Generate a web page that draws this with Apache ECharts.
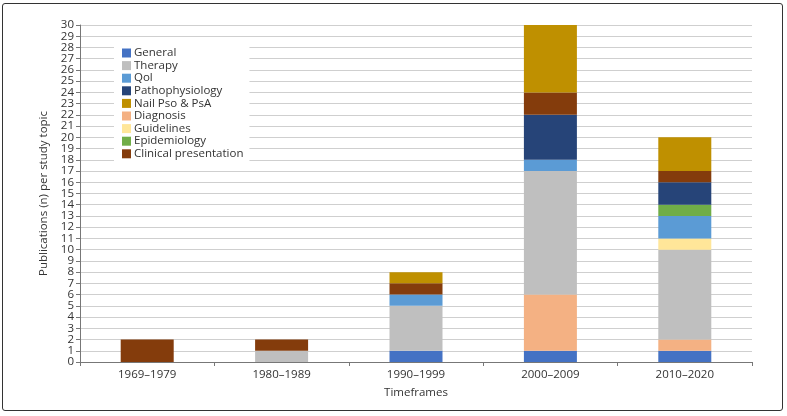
<!DOCTYPE html>
<html><head><meta charset="utf-8">
<script src="https://cdn.jsdelivr.net/npm/echarts@6/dist/echarts.min.js"></script>
<style>html,body{margin:0;padding:0;background:#fff}#frame{position:absolute;left:2px;top:3px;width:781px;height:408px;border:1px solid #333;border-radius:3px;box-sizing:border-box}#c{position:absolute;left:0;top:0;width:787px;height:416px}</style>
</head><body><div id="frame"></div><div id="c"></div>
<script>
const categories = ['1969–1979','1980–1989','1990–1999','2000–2009','2010–2020'];
const general = [0,0,1,1,1];
const diagnosis = [0,0,0,5,1];
const therapy = [0,1,4,11,8];
const guidelines = [0,0,0,0,1];
const qol = [0,0,1,1,2];
const epidemiology = [0,0,0,0,1];
const pathophysiology = [0,0,0,4,2];
const clinical = [2,1,1,2,1];
const nail = [0,0,1,6,3];
const yTicks = [0,30,1];
const legendOrder = ['General','Therapy','Qol','Pathophysiology','Nail Pso & PsA','Diagnosis','Guidelines','Epidemiology','Clinical presentation'];

const seriesDefs = [
  ['General', general, '#4472C4'],
  ['Diagnosis', diagnosis, '#F4B183'],
  ['Therapy', therapy, '#BFBFBF'],
  ['Guidelines', guidelines, '#FFE699'],
  ['Qol', qol, '#5B9BD5'],
  ['Epidemiology', epidemiology, '#70AD47'],
  ['Pathophysiology', pathophysiology, '#264478'],
  ['Clinical presentation', clinical, '#843C0C'],
  ['Nail Pso & PsA', nail, '#BF9000']
];
const font = '"Open Sans", "Noto Sans", sans-serif';
const chart = echarts.init(document.getElementById('c'));
const labelBase = {fontSize:11.5,color:'#333',margin:6,showMinLabel:true,showMaxLabel:true,hideOverlap:false};
chart.setOption({
  animation:false,
  textStyle:{fontFamily:font},
  grid:{left:80,right:35,top:25,bottom:54},
  legend:{
    data:legendOrder, orient:'vertical', left:114, top:45,
    itemWidth:9, itemHeight:9, itemGap:0.6, icon:'rect',
    backgroundColor:'#fff', padding:[2,6,2,8],
    textStyle:{fontSize:11.5,color:'#333',fontFamily:font,padding:[0,0,0,-2]}
  },
  xAxis:{
    type:'category', data:categories, name:'Timeframes', nameLocation:'middle', nameGap:25,
    nameTextStyle:{fontSize:11.5,color:'#333'},
    axisLine:{lineStyle:{color:'#777'}},
    axisTick:{show:true,length:4,lineStyle:{color:'#777'}},
    axisLabel:{fontSize:11.5,color:'#333',margin:7}
  },
  yAxis:[{
    type:'value', min:yTicks[0], max:yTicks[1], interval:yTicks[2], position:'left',
    name:'Publications (n) per study topic', nameLocation:'middle', nameGap:30,
    nameTextStyle:{fontSize:11.5,color:'#333'},
    axisLine:{show:true,lineStyle:{color:'#777'}},
    axisTick:{show:true,length:4,lineStyle:{color:'#777'}},
    axisLabel:Object.assign({formatter:v=>(v%2===0?String(v):'')},labelBase),
    splitLine:{lineStyle:{color:'#cfcfcf',width:1}}
  },{
    type:'value', min:yTicks[0], max:yTicks[1], interval:yTicks[2], position:'left', offset:0,
    axisLine:{show:false}, axisTick:{show:false}, splitLine:{show:false},
    axisLabel:Object.assign({formatter:v=>(v%2===1?String(v):'')},labelBase)
  }],
  series: seriesDefs.map(([n,d,c])=>({
    name:n, type:'bar', stack:'all', data:d, barWidth:53, yAxisIndex:0,
    itemStyle:{color:c}
  }))
});
</script></body></html>
